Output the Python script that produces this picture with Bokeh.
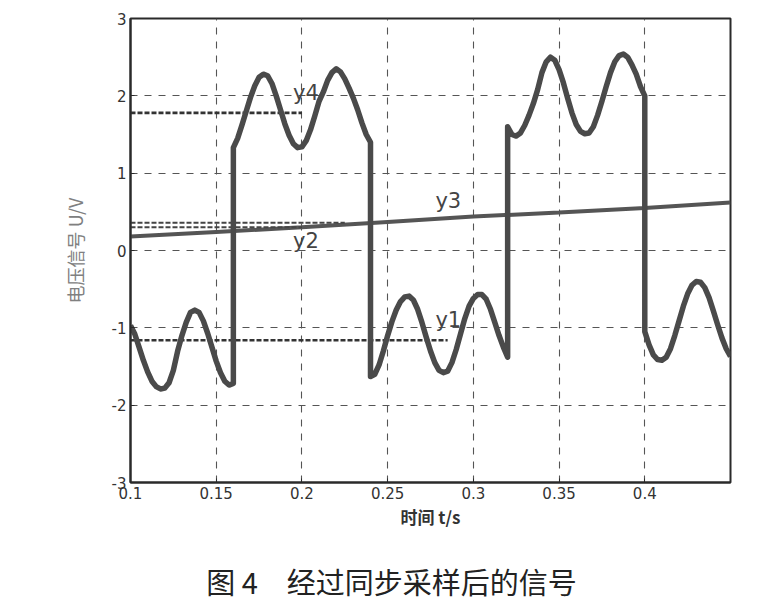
from bokeh.plotting import figure
from bokeh.models import Range1d, FixedTicker
from bokeh.layouts import column
from bokeh.embed import file_html
from bokeh.resources import INLINE
from bokeh.core.properties import value

# ---- data ----
seg_a_t = [0.100, 0.1025, 0.105, 0.1075, 0.110, 0.1125, 0.115, 0.1175, 0.120, 0.1225,
           0.125, 0.1275, 0.130, 0.1325, 0.135, 0.1375, 0.140, 0.1425, 0.145, 0.1475,
           0.150, 0.1525, 0.155, 0.1575, 0.160]
seg_a_v = [-0.97, -1.08, -1.25, -1.42, -1.57, -1.69, -1.76, -1.79, -1.78, -1.71,
           -1.55, -1.30, -1.10, -0.93, -0.80, -0.77, -0.80, -0.91, -1.07, -1.25,
           -1.43, -1.58, -1.69, -1.74, -1.72]

seg_b_t = [0.160, 0.1625, 0.165, 0.1675, 0.170, 0.1725, 0.175, 0.1775, 0.180, 0.1825,
           0.185, 0.1875, 0.190, 0.1925, 0.195, 0.1975, 0.200, 0.2025, 0.205, 0.2075,
           0.210, 0.2125, 0.215, 0.2175, 0.220, 0.2225, 0.225, 0.2275, 0.230, 0.2325,
           0.235, 0.2375, 0.240]
seg_b_v = [1.33, 1.45, 1.62, 1.80, 1.98, 2.13, 2.24, 2.28, 2.26, 2.16,
           2.00, 1.82, 1.64, 1.49, 1.38, 1.33, 1.34, 1.42, 1.56, 1.74,
           1.93, 2.05, 2.20, 2.30, 2.35, 2.31, 2.22, 2.10, 1.97, 1.82,
           1.65, 1.50, 1.40]

seg_c_t = [0.240, 0.2425, 0.245, 0.2475, 0.250, 0.2525, 0.255, 0.2575, 0.260, 0.2625,
           0.265, 0.2675, 0.270, 0.2725, 0.275, 0.2775, 0.280, 0.2825, 0.285, 0.2875,
           0.290, 0.2925, 0.295, 0.2975, 0.300, 0.3025, 0.305, 0.3075, 0.310, 0.3125,
           0.315, 0.3175, 0.320]
seg_c_v = [-1.63, -1.60, -1.48, -1.30, -1.10, -0.92, -0.77, -0.66, -0.60, -0.59,
           -0.64, -0.76, -0.93, -1.12, -1.30, -1.45, -1.55, -1.58, -1.56, -1.45,
           -1.28, -1.08, -0.88, -0.72, -0.62, -0.57, -0.57, -0.63, -0.76, -0.93,
           -1.10, -1.25, -1.38]

seg_d_t = [0.320, 0.3225, 0.325, 0.3275, 0.330, 0.3325, 0.335, 0.3375, 0.340, 0.3425,
           0.345, 0.3475, 0.350, 0.3525, 0.355, 0.3575, 0.360, 0.3625, 0.365, 0.3675,
           0.370, 0.3725, 0.375, 0.3775, 0.380, 0.3825, 0.385, 0.3875, 0.390, 0.3925,
           0.395, 0.3975, 0.400]
seg_d_v = [1.60, 1.50, 1.48, 1.52, 1.62, 1.75, 1.90, 2.08, 2.30, 2.44,
           2.50, 2.46, 2.34, 2.17, 1.97, 1.78, 1.63, 1.54, 1.51, 1.52,
           1.60, 1.75, 1.93, 2.12, 2.30, 2.44, 2.52, 2.54, 2.50, 2.40,
           2.28, 2.12, 2.00]

seg_e_t = [0.400, 0.4025, 0.405, 0.4075, 0.410, 0.4125, 0.415, 0.4175, 0.420, 0.4225,
           0.425, 0.4275, 0.430, 0.4325, 0.435, 0.4375, 0.440, 0.4425, 0.445, 0.4475,
           0.450]
seg_e_v = [-1.05, -1.22, -1.35, -1.41, -1.42, -1.38, -1.27, -1.10, -0.91, -0.72,
           -0.56, -0.45, -0.40, -0.41, -0.48, -0.61, -0.78, -0.96, -1.13, -1.27,
           -1.37]

# component lines
y1_t = [0.100, 0.285]
y1_v = [-1.16, -1.16]
y2a_t = [0.100, 0.225]
y2a_v = [0.36, 0.36]
y2b_t = [0.100, 0.200]
y2b_v = [0.30, 0.30]
y3_t = [0.10, 0.15, 0.20, 0.25, 0.30, 0.35, 0.40, 0.45]
y3_v = [0.18, 0.24, 0.30, 0.37, 0.44, 0.49, 0.55, 0.62]
y4_t = [0.100, 0.200]
y4_v = [1.78, 1.78]

# text labels for the components
lbl_text = ["y4", "y3", "y2", "y1"]
lbl_x = [0.2023, 0.2854, 0.2023, 0.2854]
lbl_y = [2.04, 0.64, 0.12, -0.90]

x_ticks = [0.1, 0.15, 0.2, 0.25, 0.3, 0.35, 0.4]
x_tick_labels = ["0.1", "0.15", "0.2", "0.25", "0.3", "0.35", "0.4"]
y_ticks = [-3, -2, -1, 0, 1, 2, 3]
y_tick_labels = ["-3", "-2", "-1", "0", "1", "2", "3"]

x_label = "时间 t/s"
y_label = "电压信号 U/V"
caption = ["图 4　经过同步采样后的信号"]

# ---- main figure ----
sig_t = seg_a_t + seg_b_t + seg_c_t + seg_d_t + seg_e_t
sig_v = seg_a_v + seg_b_v + seg_c_v + seg_d_v + seg_e_v

p = figure(width=766, height=542, output_backend="svg", toolbar_location=None,
           x_range=Range1d(0.1, 0.45), y_range=Range1d(-3, 3),
           min_border_left=130, min_border_right=36, min_border_top=18,
           min_border_bottom=60)

p.background_fill_color = "white"
p.border_fill_color = "white"
p.outline_line_color = "#2a2a2a"
p.outline_line_width = 2

for g in (p.xgrid, p.ygrid):
    g.grid_line_color = "#555555"
    g.grid_line_width = 1.1
    g.grid_line_dash = "7 7"

p.xaxis.ticker = FixedTicker(ticks=x_ticks)
p.yaxis.ticker = FixedTicker(ticks=y_ticks)
p.xaxis.major_label_overrides = {t: s for t, s in zip(x_ticks, x_tick_labels)}
p.yaxis.major_label_overrides = {t: s for t, s in zip(y_ticks, y_tick_labels)}

for ax in (p.xaxis, p.yaxis):
    ax.axis_line_color = "#2a2a2a"
    ax.axis_line_width = 2
    ax.major_tick_in = 4
    ax.major_tick_out = 0
    ax.minor_tick_line_color = None
    ax.major_tick_line_color = "#2a2a2a"
    ax.major_label_text_font = "DejaVu Sans"
    ax.major_label_text_font_size = "15px"
    ax.major_label_text_color = "#333333"

p.xaxis.major_label_standoff = 4
p.yaxis.major_label_standoff = 4

p.xaxis.axis_label = x_label
p.xaxis.axis_label_text_font = "Noto Sans CJK SC"
p.xaxis.axis_label_text_font_style = "bold"
p.xaxis.axis_label_text_font_size = "17px"
p.xaxis.axis_label_text_color = "#333333"
p.xaxis.axis_label_standoff = 2

p.yaxis.axis_label = y_label
p.yaxis.axis_label_text_font = "Noto Sans CJK SC"
p.yaxis.axis_label_text_font_style = "normal"
p.yaxis.axis_label_text_font_size = "18px"
p.yaxis.axis_label_text_color = "#808080"
p.yaxis.axis_label_standoff = 21

# component lines
p.line(y3_t, y3_v, line_color="#555555", line_width=4)
p.line(y2a_t, y2a_v, line_color="#444444", line_width=2.0, line_dash="5 2")
p.line(y2b_t, y2b_v, line_color="#444444", line_width=2.0, line_dash="5 2")
p.line(y1_t, y1_v, line_color="#333333", line_width=2.6, line_dash="5 2")
p.line(y4_t, y4_v, line_color="#333333", line_width=2.6, line_dash="5 2")

# main signal
p.line(sig_t, sig_v, line_color="#4a4a4a", line_width=5.5, line_join="round")

p.text(x=lbl_x, y=lbl_y, text=lbl_text, text_font=value("DejaVu Sans"),
       text_font_size="21px", text_color="#444444", text_align="center",
       text_baseline="middle")

# ---- caption strip (its frame is aligned with the main frame: 130..730 px) ----
c = figure(width=766, height=58, output_backend="svg", toolbar_location=None,
           x_range=Range1d(130, 730), y_range=Range1d(0, 58),
           x_axis_location=None, y_axis_location=None,
           min_border_left=130, min_border_right=36, min_border_top=0,
           min_border_bottom=0)
c.outline_line_color = None
c.xgrid.visible = False
c.ygrid.visible = False
c.background_fill_color = "white"
c.border_fill_color = "white"
c.text(x=[391], y=[20], text=caption, text_font=value("Noto Sans CJK SC"),
       text_font_size="29px", text_color="#222222", text_align="center",
       text_baseline="middle")

layout = column(p, c, spacing=0)
open("out.html", "w").write(file_html(layout, INLINE))
